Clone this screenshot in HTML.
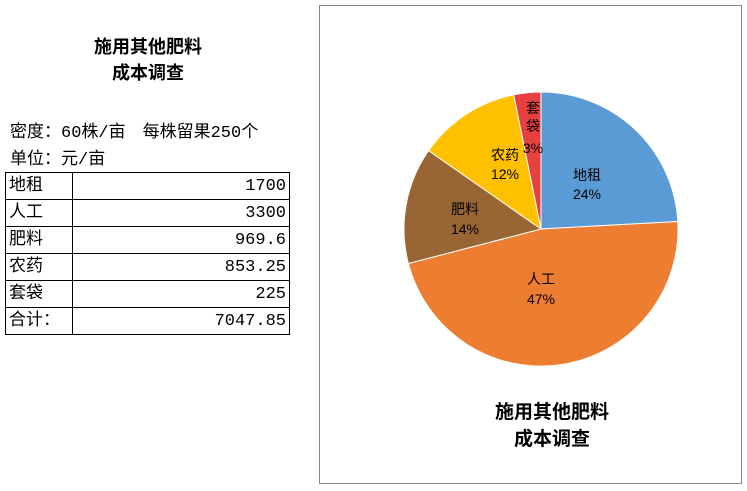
<!DOCTYPE html>
<html><head><meta charset="utf-8"><style>
body{margin:0;width:747px;height:491px;background:#fff;position:relative;overflow:hidden;font-family:"Liberation Mono","Noto Sans CJK SC",monospace;color:#000}
.t{position:absolute;font-size:17px;line-height:20px;white-space:nowrap}
table{position:absolute;left:5px;top:172px;border-collapse:collapse;font-size:17px}
td{border:1px solid #000;height:26px;padding:2px 3px 0 3px;line-height:24px;box-sizing:border-box}
td.n{text-align:right;width:217px}
td.l{width:67px}
.h{position:absolute;font-family:"Liberation Sans","Noto Sans CJK SC",sans-serif;font-weight:bold;text-align:center;line-height:26px}
</style></head><body>
<div class="h" style="left:48px;top:34px;width:200px;font-size:18px">施用其他肥料<br>成本调查</div>
<div class="t" style="left:10px;top:124px">密度：60株/亩　每株留果250个</div>
<div class="t" style="left:10px;top:151px">单位：元/亩</div>
<table>
<tr><td class="l">地租</td><td class="n">1700</td></tr>
<tr><td class="l">人工</td><td class="n">3300</td></tr>
<tr><td class="l">肥料</td><td class="n">969.6</td></tr>
<tr><td class="l">农药</td><td class="n">853.25</td></tr>
<tr><td class="l">套袋</td><td class="n">225</td></tr>
<tr><td class="l">合计：</td><td class="n">7047.85</td></tr>
</table>
<div style="position:absolute;left:319px;top:5px;width:421px;height:477px;border:1px solid #888"></div>
<svg style="position:absolute;left:0;top:0" width="747" height="491" font-family="Liberation Sans,Noto Sans CJK SC,sans-serif" font-size="14" text-anchor="middle">
<path d="M541 229 L541 92 A137 137 0 0 1 677.8 221.5Z" fill="#5b9bd5" stroke="#fff" stroke-width="1"/>
<path d="M541 229 L677.8 221.5 A137 137 0 0 1 408.4 263.5Z" fill="#ed7d31" stroke="#fff" stroke-width="1"/>
<path d="M541 229 L408.4 263.5 A137 137 0 0 1 428.6 150.6Z" fill="#996633" stroke="#fff" stroke-width="1"/>
<path d="M541 229 L428.6 150.6 A137 137 0 0 1 513.7 94.8Z" fill="#ffc000" stroke="#fff" stroke-width="1"/>
<path d="M541 229 L513.7 94.8 A137 137 0 0 1 541 92Z" fill="#e84040" stroke="#fff" stroke-width="1"/>
<text x="587" y="180">地租</text><text x="587" y="199">24%</text>
<text x="541" y="284">人工</text><text x="541" y="304">47%</text>
<text x="465" y="214">肥料</text><text x="465" y="234">14%</text>
<text x="505" y="160">农药</text><text x="505" y="179">12%</text>
<text x="533" y="113">套</text><text x="533" y="131">袋</text><text x="533" y="153">3%</text>
<text x="552" y="418" font-size="19" font-weight="bold">施用其他肥料</text>
<text x="552" y="445" font-size="19" font-weight="bold">成本调查</text>
</svg>
</body></html>
